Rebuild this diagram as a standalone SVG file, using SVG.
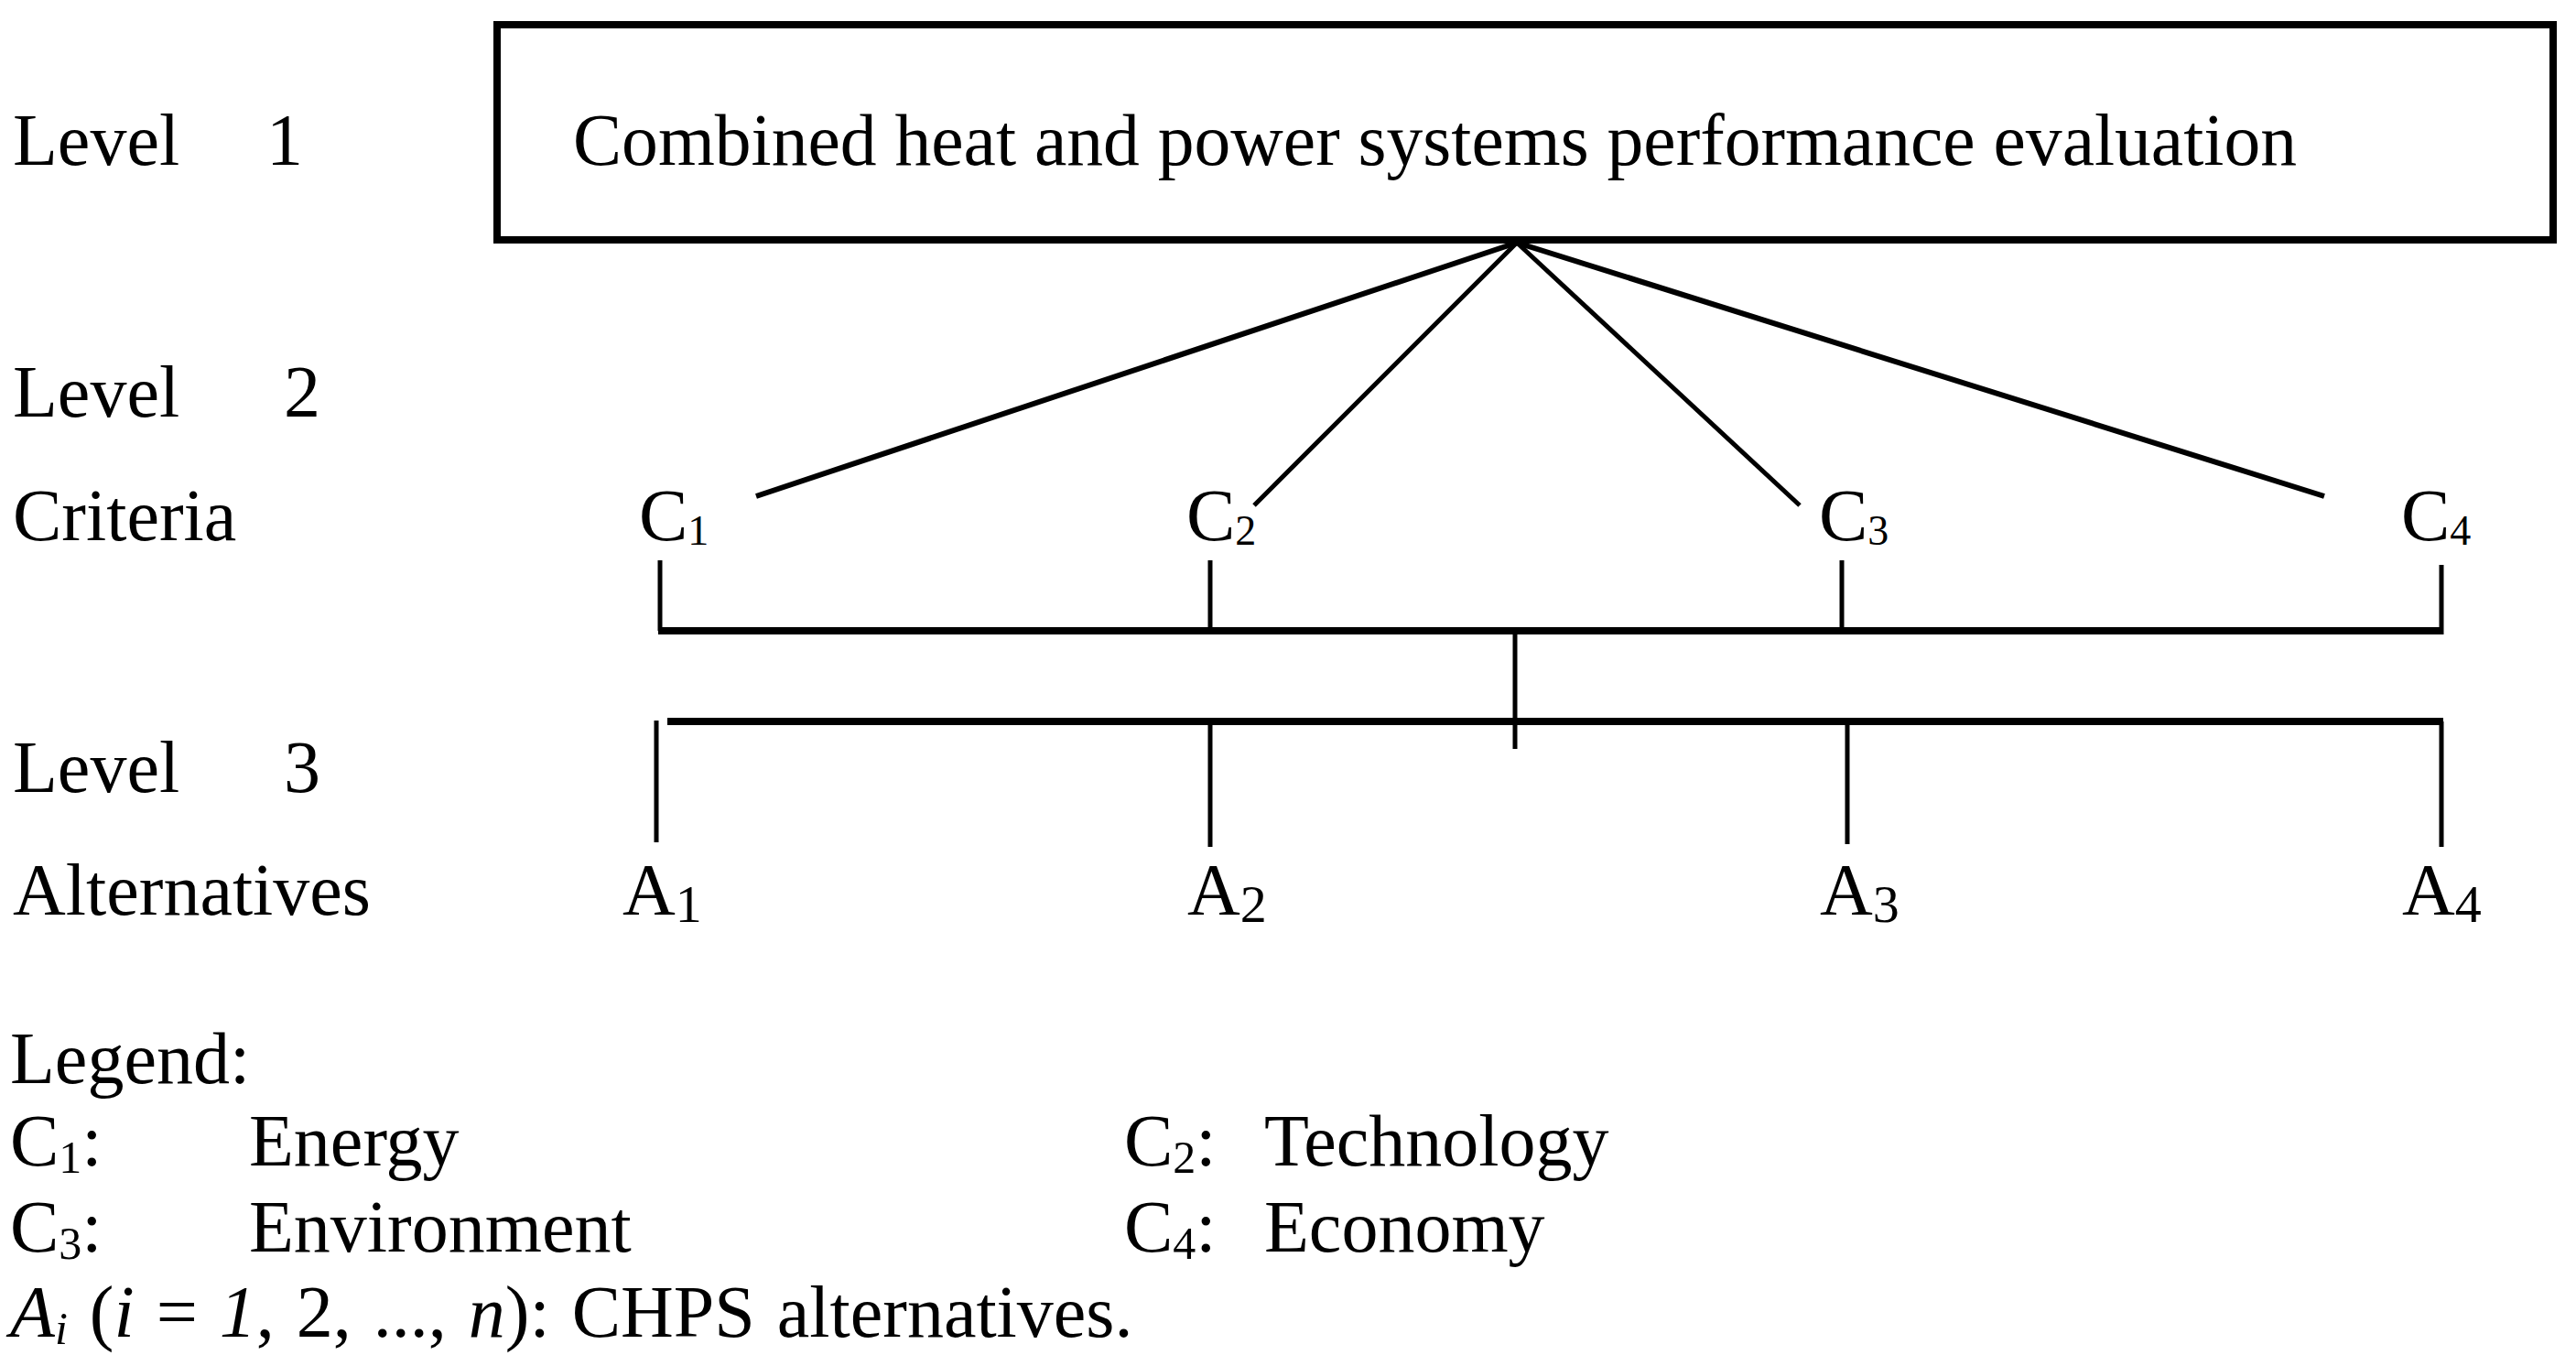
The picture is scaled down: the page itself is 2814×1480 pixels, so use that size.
<svg xmlns="http://www.w3.org/2000/svg" width="2814" height="1480" viewBox="0 0 2814 1480">
<style>
text{font-family:"Liberation Serif","Times New Roman",serif;font-size:80px;fill:#000}
.sub{font-size:46px}
.suba{font-size:58px}
.subl{font-size:50px}
.it{font-style:italic}
.ln{stroke:#000;fill:none;stroke-linecap:butt}
</style>
<rect width="2814" height="1480" fill="#fff"/>
<g id="level-labels">
<text x="14" y="180">Level</text><text x="291" y="180">1</text>
<text x="14" y="455">Level</text><text x="310" y="455">2</text>
<text x="14" y="590">Criteria</text>
<text x="14" y="865">Level</text><text x="310" y="865">3</text>
<text x="14" y="999">Alternatives</text>
</g>
<g id="goal">
<rect x="543" y="27" width="2246" height="235" fill="#fff" stroke="#000" stroke-width="8"/>
<text x="626" y="180" textLength="1883" lengthAdjust="spacingAndGlyphs">Combined heat and power systems performance evaluation</text>
</g>
<g id="C1"><text x="698" y="590">C<tspan class="sub" dy="5">1</tspan></text></g>
<g id="C2"><text x="1296" y="590">C<tspan class="sub" dy="5">2</tspan></text></g>
<g id="C3"><text x="1987" y="590">C<tspan class="sub" dy="5">3</tspan></text></g>
<g id="C4"><text x="2623" y="590">C<tspan class="sub" dy="5">4</tspan></text></g>
<g id="A1"><text x="680" y="999">A<tspan class="suba" dy="8">1</tspan></text></g>
<g id="A2"><text x="1297" y="999">A<tspan class="suba" dy="8">2</tspan></text></g>
<g id="A3"><text x="1988" y="999">A<tspan class="suba" dy="8">3</tspan></text></g>
<g id="A4"><text x="2624" y="999">A<tspan class="suba" dy="8">4</tspan></text></g>
<g id="connectors">
<line class="ln" stroke-width="6" x1="1657" y1="265" x2="826" y2="542"/>
<line class="ln" stroke-width="5" x1="1657" y1="265" x2="1370" y2="552"/>
<line class="ln" stroke-width="5" x1="1657" y1="265" x2="1966" y2="552"/>
<line class="ln" stroke-width="6" x1="1657" y1="265" x2="2539" y2="542"/>
<line class="ln" stroke-width="5" x1="721" y1="612" x2="721" y2="689"/>
<line class="ln" stroke-width="5" x1="1322" y1="612" x2="1322" y2="689"/>
<line class="ln" stroke-width="5" x1="2012" y1="612" x2="2012" y2="689"/>
<line class="ln" stroke-width="5" x1="2667" y1="617" x2="2667" y2="693"/>
<line class="ln" stroke-width="8" x1="719" y1="689" x2="2667" y2="689"/>
<line class="ln" stroke-width="5" x1="1655" y1="689" x2="1655" y2="818"/>
<line class="ln" stroke-width="8" x1="729" y1="788" x2="2669" y2="788"/>
<line class="ln" stroke-width="5" x1="717" y1="787" x2="717" y2="920"/>
<line class="ln" stroke-width="5" x1="1322" y1="788" x2="1322" y2="925"/>
<line class="ln" stroke-width="5" x1="2018" y1="788" x2="2018" y2="922"/>
<line class="ln" stroke-width="5" x1="2667" y1="788" x2="2667" y2="925"/>
</g>
<g id="legend">
<text x="11" y="1183">Legend:</text>
<text x="11" y="1273">C<tspan class="subl" dy="8">1</tspan><tspan dy="-8">:</tspan></text>
<text x="272" y="1273">Energy</text>
<text x="1228" y="1273">C<tspan class="subl" dy="8">2</tspan><tspan dy="-8">:</tspan></text>
<text x="1381" y="1273">Technology</text>
<text x="11" y="1367">C<tspan class="subl" dy="8">3</tspan><tspan dy="-8">:</tspan></text>
<text x="272" y="1367">Environment</text>
<text x="1228" y="1367">C<tspan class="subl" dy="8">4</tspan><tspan dy="-8">:</tspan></text>
<text x="1381" y="1367">Economy</text>
<text x="11" y="1460" word-spacing="4"><tspan class="it">A</tspan><tspan class="it subl" dy="8">i</tspan><tspan dy="-8"> (</tspan><tspan class="it">i</tspan> = <tspan class="it">1</tspan>, 2, ..., <tspan class="it">n</tspan>):  CHPS alternatives.</text>
</g>
</svg>
